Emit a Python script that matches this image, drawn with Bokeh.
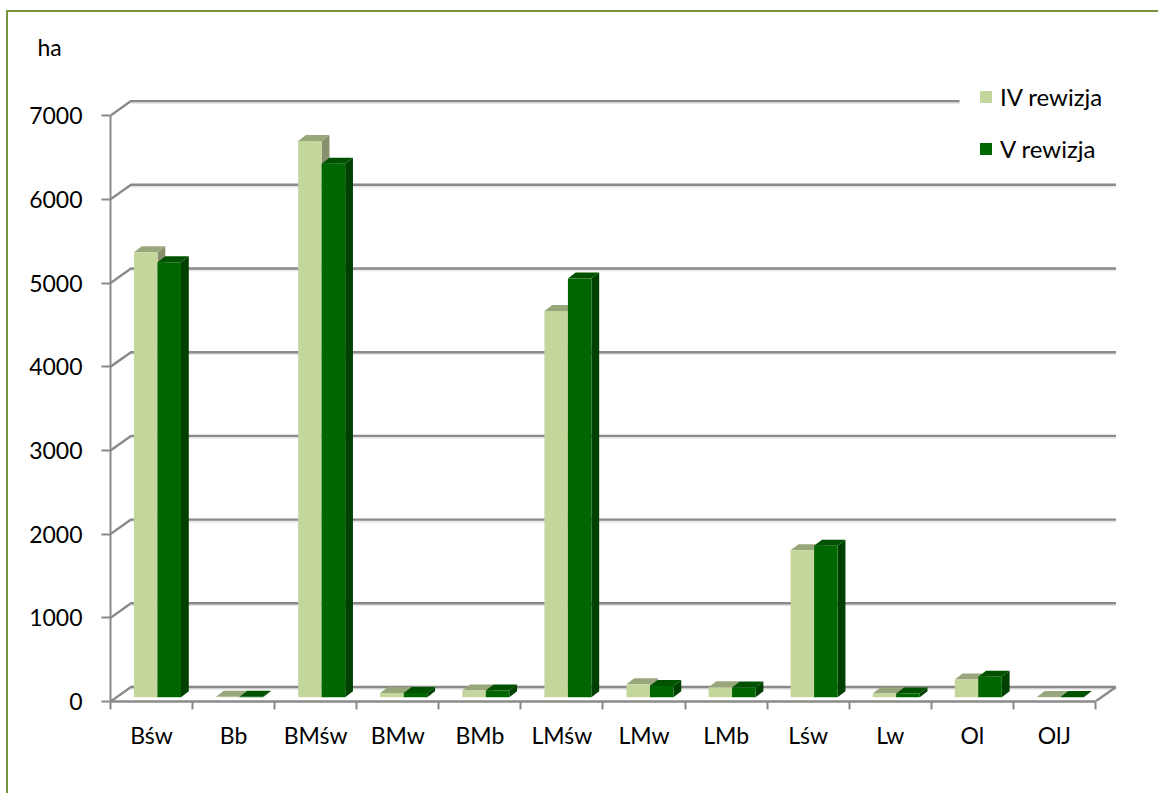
from bokeh.plotting import figure
from bokeh.embed import file_html
from bokeh.resources import INLINE
from bokeh.models import (FixedTicker, Legend, LegendItem, Title, LinearAxis, Range1d, InlineStyleSheet)

categories = ["Bśw", "Bb", "BMśw", "BMw", "BMb", "LMśw", "LMw", "LMb", "Lśw", "Lw", "Ol", "OlJ"]
rewizja_iv = [5317, 5, 6646, 51, 80, 4615, 155, 120, 1756, 45, 211, 3]
rewizja_v = [5197, 5, 6372, 50, 80, 5002, 135, 115, 1808, 45, 243, 3]
y_ticks = [0, 1000, 2000, 3000, 4000, 5000, 6000, 7000]
series_names = ["IV rewizja", "V rewizja"]

FONT = "Lato"
GRID = "#8a8a8a"
TEXT = "#000000"

# pixel scale of the two axes
PX_CAT = 82.08
PX_1000 = 83.7
FRAME_W = 1030
FRAME_H = 641
ux = 1.0 / PX_CAT
uy = 1000.0 / PX_1000

n = len(categories)
p = figure(width=1158, height=793, output_backend="svg", toolbar_location=None,
           x_range=Range1d(0, FRAME_W * ux), y_range=Range1d(0, FRAME_H * uy),
           x_axis_location=None, y_axis_location=None,
           min_border_left=110, min_border_right=18, min_border_top=60, min_border_bottom=92,
           background_fill_color="white", border_fill_color="white", outline_line_color=None)
p.grid.visible = False
p.title = Title(text="ha", align="left", offset=-73, standoff=0, text_font=FONT,
                text_font_size="23px", text_font_style="normal", text_color=TEXT)

# chart frame: only its left and top edges show
p.stylesheets = [InlineStyleSheet(css=":host::before{content:'';position:absolute;left:6px;top:10px;"
                                      "right:0;bottom:0;border-left:2px solid #76923c;"
                                      "border-top:2px solid #76923c;z-index:5;pointer-events:none}")]

# 3D wall and floor
DX, DY = 20.5 * ux, 14.5 * uy
top_x = n + DX
wall_x, wall_y = [], []
for v in y_ticks:
    wall_x.append([0, DX, top_x])
    wall_y.append([v, v + DY, v + DY])
p.multi_line([xs[1:] for xs in wall_x],
             [[b - 1.8 * uy for b in ys[1:]] for ys in wall_y],
             line_color="#e6e6e6", line_width=2)
p.multi_line(wall_x, wall_y, line_color=GRID, line_width=2.4)
p.line([n, top_x], [0, DY], line_color=GRID, line_width=2.4)

# white backing of the legend, over the top wall line
p.quad(left=[849 * ux], right=[1010 * ux], bottom=[531 * uy], top=[625 * uy],
       fill_color="white", line_color=None)

# bars
BAR = 23.5 * ux
LEFT = 23.5 * ux
BASE = 4.3 * uy
SX, SY = 7.8 * ux, 6.0 * uy
COLS = [("#c3d69b", "#98a67b", "#878f6c"), ("#006600", "#005200", "#004000")]


def box(values, slot):
    x0 = [i + LEFT + slot * BAR for i in range(n)]
    tops = [BASE + v for v in values]
    x1 = [a + BAR for a in x0]
    top_xs = [[a, a + SX, b + SX, b] for a, b in zip(x0, x1)]
    top_ys = [[t, t + SY, t + SY, t] for t in tops]
    side_xs = [[b, b + SX, b + SX, b] for b in x1]
    side_ys = [[BASE, BASE + SY, t + SY, t] for t in tops]
    return x0, tops, top_xs, top_ys, side_xs, side_ys


fronts = []
for i in range(n):
    for slot, vals in enumerate((rewizja_iv, rewizja_v)):
        x0, tops, txs, tys, sxs, sys_ = box(vals, slot)
        front, top, side = COLS[slot]
        p.patch(sxs[i], sys_[i], fill_color=side, line_color=None)
        p.patch(txs[i], tys[i], fill_color=top, line_color=None)
        r = p.vbar(x=[x0[i] + BAR / 2], width=BAR, bottom=[BASE], top=[tops[i]],
                   fill_color=front, line_color=None)
        if i == 0:
            fronts.append(r)

# axes
yax = LinearAxis(ticker=FixedTicker(ticks=y_ticks), bounds=(0, 7000))
yax.axis_line_color = GRID
yax.axis_line_width = 2
yax.major_tick_line_color = GRID
yax.major_tick_line_width = 2
yax.major_tick_out = 9
yax.major_tick_in = 0
yax.minor_tick_out = 0
yax.minor_tick_in = 0
yax.major_label_standoff = 19
yax.major_label_text_font = FONT
yax.major_label_text_font_size = "23px"
yax.major_label_text_color = TEXT
p.add_layout(yax, "left")

mids = [i + 0.5 for i in range(n)]
xax = LinearAxis(ticker=FixedTicker(ticks=mids, minor_ticks=list(range(n + 1))), bounds=(0, n))
xax.major_label_overrides = {m: c for m, c in zip(mids, categories)}
xax.axis_line_color = GRID
xax.axis_line_width = 2.4
xax.major_tick_out = 0
xax.major_tick_in = 0
xax.minor_tick_line_color = GRID
xax.minor_tick_line_width = 2
xax.minor_tick_out = 8
xax.minor_tick_in = 0
xax.major_label_standoff = 11
xax.major_label_text_font = FONT
xax.major_label_text_font_size = "23px"
xax.major_label_text_color = TEXT
p.add_layout(xax, "below")

# legend
legend = Legend(items=[LegendItem(label=series_names[0], renderers=[fronts[0]]),
                       LegendItem(label=series_names[1], renderers=[fronts[1]])],
                location=(868, 538), orientation="vertical",
                glyph_width=15, glyph_height=15, label_standoff=7,
                label_text_font=FONT, label_text_font_size="24px", label_text_color=TEXT,
                spacing=23, padding=18, margin=0,
                background_fill_alpha=0, border_line_color=None)
p.add_layout(legend, "center")

open("out.html", "w").write(file_html(p, INLINE))
